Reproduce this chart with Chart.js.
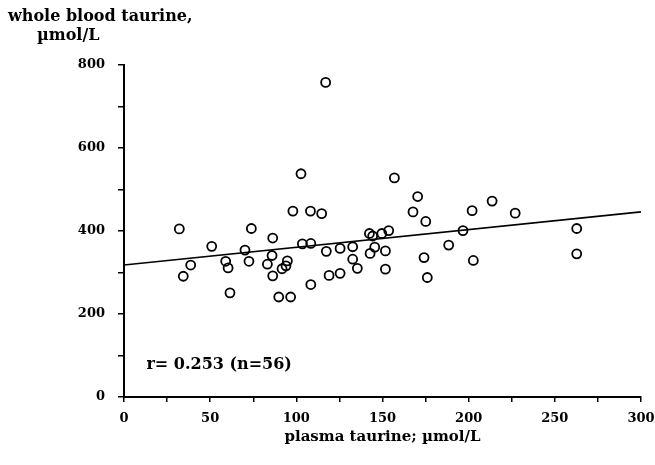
<!DOCTYPE html>
<html>
<head>
<meta charset="utf-8">
<script src="https://cdn.jsdelivr.net/npm/chart.js@4.4.0/dist/chart.umd.min.js"></script>
<style>
  html, body { margin: 0; padding: 0; background: #fff; }
  #wrap { width: 655px; height: 465px; }
</style>
</head>
<body>
<div id="wrap"><canvas id="myChart" width="655" height="465"></canvas></div>
<script>
// plasma taurine (x) and whole blood taurine (y), umol/L
var plasmaTaurine = [32.1, 34.4, 38.7, 50.9, 59.0, 60.4, 61.5, 70.2, 72.5, 73.9,
  83.2, 85.9, 86.3, 86.3, 89.8, 91.7, 94.8, 94.0, 96.7, 98.0,
  102.7, 103.5, 108.4, 108.2, 108.4, 114.7, 117.4, 119.0, 125.4, 125.4,
  132.7, 132.7, 135.4, 117.0, 142.4, 144.3, 145.5, 142.8, 149.6, 153.6,
  151.7, 151.7, 156.9, 170.4, 167.7, 175.1, 174.1, 176.0, 188.4, 196.7,
  202.0, 202.7, 213.6, 227.0, 262.7, 262.7];
var wholeBloodTaurine = [405, 291, 318, 363, 327, 311, 251, 354, 327, 406,
  320, 341, 383, 292, 241, 309, 328, 316, 241, 448,
  538, 369, 370, 448, 271, 442, 351, 293, 358, 298,
  362, 332, 310, 758, 394, 388, 361, 346, 394, 401,
  352, 308, 528, 483, 446, 423, 336, 288, 366, 401,
  449, 329, 472, 443, 406, 345];

// regression line end points
var fitX = [0, 300];
var fitY = [318, 446];

var xTicks = [0, 50, 100, 150, 200, 250, 300];
var yTicks = [0, 200, 400, 600, 800];

var annotation = 'r= 0.253 (n=56)';
var yTitle = ['whole blood taurine,', '\u00b5mol/L'];
var xTitle = 'plasma taurine; \u00b5mol/L';

var points = plasmaTaurine.map(function (v, i) {
  return { x: v, y: wholeBloodTaurine[i] };
});
var fitLine = fitX.map(function (v, i) {
  return { x: v, y: fitY[i] };
});

var serif = 'DejaVu Serif';

var textPlugin = {
  id: 'extraText',
  afterDraw: function (chart) {
    var c = chart.ctx;
    c.save();
    c.fillStyle = '#000';
    c.textBaseline = 'alphabetic';
    c.font = 'bold 16px "' + serif + '"';
    c.fillText(yTitle[0], 8, 21);
    c.fillText(yTitle[1], 37, 40);
    c.textBaseline = 'middle';
    c.fillText(annotation, chart.scales.x.getPixelForValue(13), chart.scales.y.getPixelForValue(78));
    c.restore();
  }
};

var ctx = document.getElementById('myChart').getContext('2d');
var myChart = new Chart(ctx, {
  type: 'scatter',
  data: {
    datasets: [{
      data: points,
      pointRadius: 4.5,
      pointBorderWidth: 1.8,
      pointBorderColor: '#000',
      pointBackgroundColor: 'rgba(0,0,0,0)'
    }, {
      type: 'line',
      data: fitLine,
      borderColor: '#000',
      borderWidth: 1.6,
      pointRadius: 0,
      fill: false
    }]
  },
  options: {
    responsive: false,
    animation: false,
    layout: { padding: { left: 0, right: 14, top: 65, bottom: 0 } },
    plugins: {
      legend: { display: false },
      tooltip: { enabled: false }
    },
    scales: {
      x: {
        type: 'linear',
        min: 0,
        max: 300,
        afterFit: function (s) { s.height = 68; s.paddingLeft = 0; s.paddingRight = 0; },
        afterBuildTicks: function (s) {
          var t = [];
          for (var v = 0; v <= 300; v += 25) t.push({ value: v });
          s.ticks = t;
        },
        ticks: {
          color: '#000',
          padding: 9,
          maxRotation: 0,
          autoSkip: false,
          font: { family: serif, weight: 'bold', size: 13 },
          callback: function (v) { return xTicks.indexOf(v) >= 0 ? String(v) : ''; }
        },
        grid: { drawOnChartArea: false, drawTicks: true, tickLength: 5, color: '#000', lineWidth: 1.5 },
        border: { display: true, color: '#000', width: 2 },
        title: {
          display: true,
          text: xTitle,
          color: '#000',
          font: { family: serif, weight: 'bold', size: 15 },
          padding: { top: 0, bottom: 19 }
        }
      },
      y: {
        type: 'linear',
        min: 0,
        max: 800,
        afterFit: function (s) { s.width = 124; s.paddingTop = 0; s.paddingBottom = 0; },
        afterBuildTicks: function (s) {
          var t = [];
          for (var v = 0; v <= 800; v += 100) t.push({ value: v });
          s.ticks = t;
        },
        ticks: {
          color: '#000',
          padding: 13,
          autoSkip: false,
          font: { family: serif, weight: 'bold', size: 13 },
          callback: function (v) { return yTicks.indexOf(v) >= 0 ? String(v) : ''; }
        },
        grid: { drawOnChartArea: false, drawTicks: true, tickLength: 6, color: '#000', lineWidth: 1.5 },
        border: { display: true, color: '#000', width: 2 }
      }
    }
  },
  plugins: [textPlugin]
});
</script>
</body>
</html>
